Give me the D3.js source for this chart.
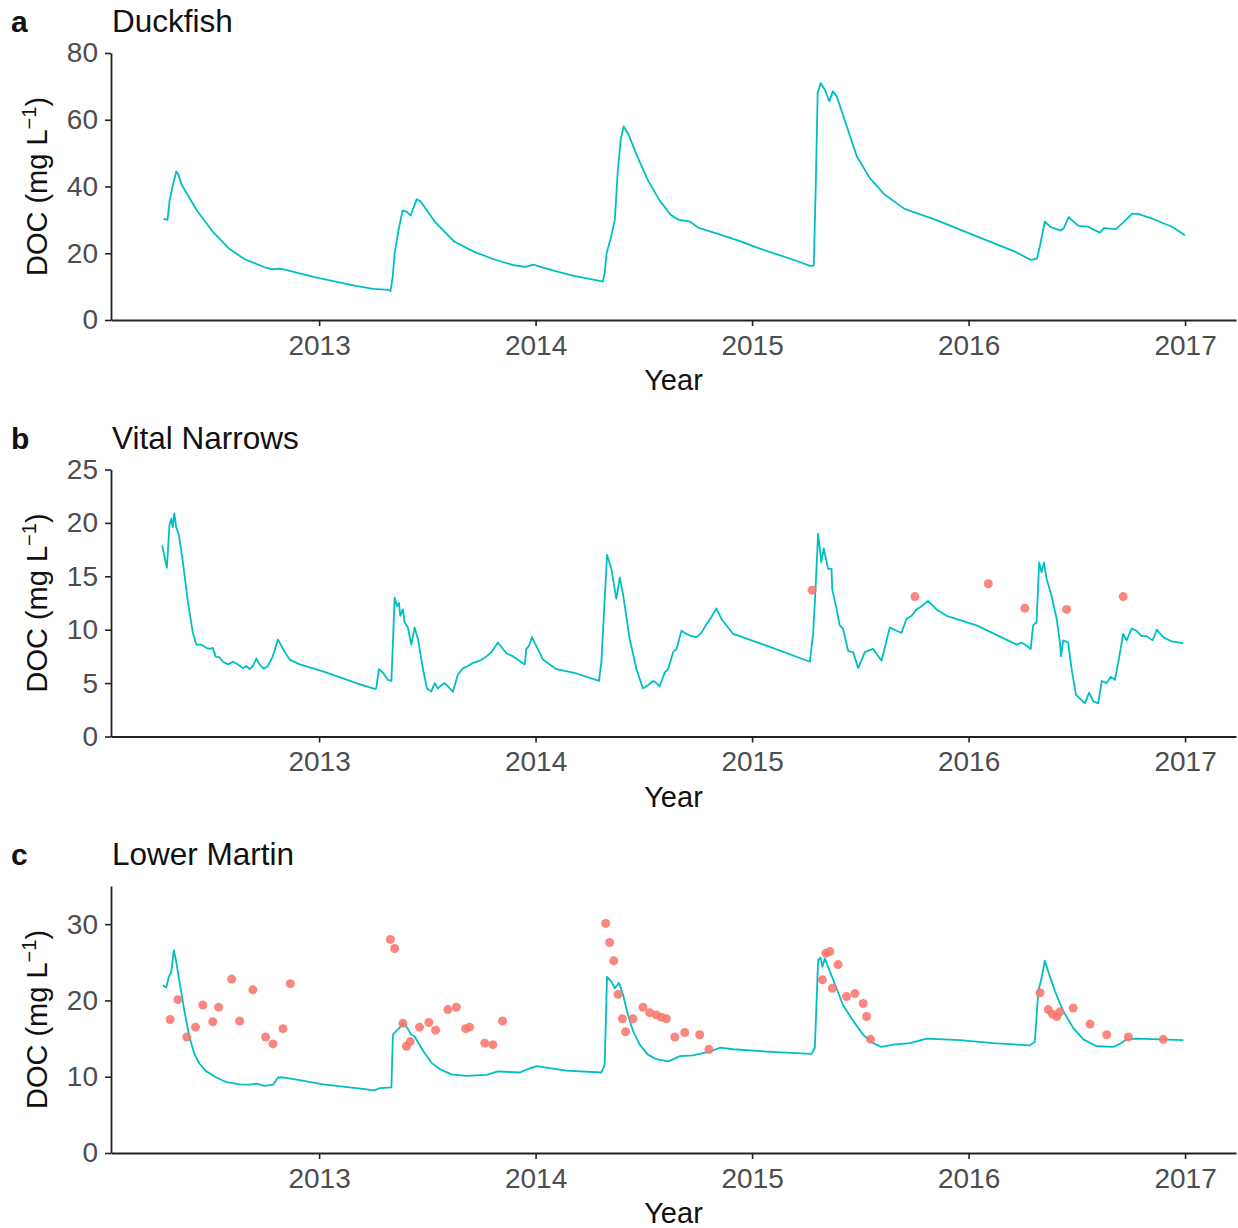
<!DOCTYPE html>
<html>
<head>
<meta charset="utf-8">
<script src="https://cdn.jsdelivr.net/npm/d3@7"></script>
<style>
  html, body { margin: 0; padding: 0; background: #fff; }
  svg { display: block; font-family: "Liberation Sans", Arial, Helvetica, sans-serif; }
</style>
</head>
<body>
<svg id="chart" width="1238" height="1228"></svg>
<script>
// ---- data: [decimal year, DOC mg/L] ----
const yearTicks = [2013, 2014, 2015, 2016, 2017];

const duckfishModel = [
  [2012.281,30.3],[2012.300,30.0],[2012.310,36.0],[2012.323,40.0],[2012.340,44.5],[2012.351,43.5],
  [2012.365,40.5],[2012.402,36.5],[2012.439,32.5],[2012.508,26.5],[2012.582,21.5],[2012.656,18.2],
  [2012.748,15.8],[2012.785,15.2],[2012.822,15.4],[2012.984,12.8],[2013.169,10.2],[2013.250,9.3],
  [2013.321,9.0],[2013.330,8.7],[2013.340,13.0],[2013.349,20.0],[2013.367,27.0],[2013.386,32.8],
  [2013.404,32.5],[2013.423,31.3],[2013.451,36.2],[2013.469,35.5],[2013.534,29.5],[2013.624,23.5],
  [2013.714,20.5],[2013.806,18.2],[2013.899,16.4],[2013.954,15.9],[2013.989,16.6],[2014.079,14.9],
  [2014.171,13.3],[2014.273,12.0],[2014.310,11.5],[2014.319,14.0],[2014.328,20.0],[2014.347,24.5],
  [2014.366,30.0],[2014.379,44.0],[2014.393,54.0],[2014.407,58.0],[2014.430,55.5],[2014.463,50.0],
  [2014.518,42.0],[2014.571,36.0],[2014.624,31.5],[2014.661,30.0],[2014.712,29.5],[2014.753,27.6],
  [2014.846,25.7],[2014.937,23.8],[2015.026,21.6],[2015.119,19.6],[2015.211,17.6],[2015.267,16.2],
  [2015.285,16.3],[2015.294,40.0],[2015.303,68.0],[2015.317,71.0],[2015.336,69.0],[2015.357,65.5],
  [2015.373,68.5],[2015.391,67.0],[2015.484,49.0],[2015.544,42.5],[2015.613,37.5],[2015.636,36.5],
  [2015.704,33.3],[2015.849,30.0],[2016.032,25.2],[2016.214,20.5],[2016.288,18.0],[2016.316,18.4],
  [2016.329,22.0],[2016.352,29.5],[2016.380,27.8],[2016.426,26.8],[2016.440,27.5],[2016.462,30.8],
  [2016.507,28.2],[2016.551,28.0],[2016.579,27.0],[2016.607,26.2],[2016.625,27.5],[2016.681,27.2],
  [2016.718,29.5],[2016.755,31.8],[2016.783,31.8],[2016.855,30.2],[2016.944,27.8],[2016.999,25.4]
];
const duckfishObserved = [];

const vitalModel = [
  [2012.275,17.9],[2012.297,15.8],[2012.309,19.8],[2012.317,20.4],[2012.324,19.6],[2012.331,20.9],
  [2012.340,19.6],[2012.352,18.9],[2012.371,16.3],[2012.394,12.6],[2012.417,9.7],[2012.433,8.6],
  [2012.456,8.6],[2012.479,8.3],[2012.494,8.2],[2012.509,8.3],[2012.522,7.5],[2012.540,7.4],
  [2012.556,7.0],[2012.579,6.75],[2012.602,7.0],[2012.625,6.75],[2012.648,6.4],[2012.664,6.6],
  [2012.679,6.3],[2012.694,6.6],[2012.710,7.3],[2012.725,6.75],[2012.744,6.35],[2012.764,6.6],
  [2012.784,7.4],[2012.794,8.0],[2012.810,9.1],[2012.833,8.2],[2012.864,7.2],[2012.910,6.75],
  [2013.018,6.1],[2013.172,5.0],[2013.256,4.45],[2013.264,4.5],[2013.276,6.3],[2013.295,6.0],
  [2013.318,5.3],[2013.334,5.2],[2013.349,13.0],[2013.360,12.2],[2013.369,12.5],[2013.375,11.3],
  [2013.387,11.9],[2013.395,10.7],[2013.410,10.2],[2013.426,8.6],[2013.441,10.2],[2013.457,9.1],
  [2013.480,6.3],[2013.498,4.5],[2013.518,4.2],[2013.534,5.0],[2013.549,4.5],[2013.565,4.8],
  [2013.580,5.0],[2013.595,4.7],[2013.618,4.2],[2013.641,5.8],[2013.665,6.4],[2013.688,6.6],
  [2013.711,6.9],[2013.742,7.1],[2013.773,7.5],[2013.796,7.9],[2013.826,8.8],[2013.865,7.8],
  [2013.896,7.5],[2013.950,6.75],[2013.957,8.2],[2013.970,8.5],[2013.983,9.3],[2014.034,7.2],
  [2014.096,6.3],[2014.189,5.9],[2014.293,5.2],[2014.304,7.0],[2014.330,17.0],[2014.350,15.7],
  [2014.373,12.9],[2014.389,14.9],[2014.404,13.3],[2014.435,9.1],[2014.466,6.3],[2014.496,4.5],
  [2014.519,4.8],[2014.543,5.2],[2014.558,5.0],[2014.573,4.7],[2014.597,6.0],[2014.612,6.3],
  [2014.635,7.9],[2014.651,8.2],[2014.674,9.9],[2014.697,9.6],[2014.720,9.4],[2014.743,9.3],
  [2014.766,9.7],[2014.789,10.5],[2014.812,11.2],[2014.835,12.0],[2014.859,11.0],[2014.912,9.6],
  [2015.067,8.5],[2015.267,7.0],[2015.282,9.7],[2015.290,12.6],[2015.305,19.0],[2015.320,16.3],
  [2015.331,17.6],[2015.351,15.7],[2015.367,15.7],[2015.370,13.8],[2015.390,12.0],[2015.405,10.4],
  [2015.420,10.1],[2015.444,8.0],[2015.467,7.9],[2015.490,6.4],[2015.521,7.9],[2015.559,8.2],
  [2015.598,7.1],[2015.636,10.2],[2015.667,9.9],[2015.690,9.7],[2015.713,11.0],[2015.737,11.3],
  [2015.760,11.9],[2015.783,12.2],[2015.813,12.7],[2015.852,11.9],[2015.898,11.3],[2016.037,10.4],
  [2016.222,8.6],[2016.245,8.8],[2016.268,8.5],[2016.287,8.2],[2016.298,10.4],[2016.314,10.7],
  [2016.326,16.3],[2016.337,15.4],[2016.348,16.3],[2016.360,14.8],[2016.383,13.2],[2016.407,11.0],
  [2016.422,8.8],[2016.427,7.5],[2016.437,9.0],[2016.460,8.8],[2016.476,6.3],[2016.496,3.9],
  [2016.522,3.4],[2016.537,3.1],[2016.557,4.1],[2016.576,3.3],[2016.599,3.1],[2016.615,5.2],
  [2016.638,5.0],[2016.656,5.6],[2016.676,5.3],[2016.691,6.9],[2016.714,9.6],[2016.730,9.0],
  [2016.753,10.1],[2016.776,9.9],[2016.799,9.4],[2016.823,9.4],[2016.850,9.0],[2016.869,10.0],
  [2016.899,9.3],[2016.938,8.9],[2016.992,8.75]
];
const vitalObserved = [
  [2015.277,13.7],[2015.752,13.1],[2016.091,14.3],[2016.260,12.0],[2016.453,11.9],[2016.714,13.1]
];

const martinModel = [
  [2012.278,22.0],[2012.294,21.7],[2012.306,23.1],[2012.317,23.7],[2012.329,26.6],[2012.340,25.1],
  [2012.355,22.5],[2012.378,18.6],[2012.402,15.1],[2012.425,12.9],[2012.448,11.7],[2012.479,10.7],
  [2012.525,9.9],[2012.571,9.3],[2012.633,9.0],[2012.679,8.95],[2012.710,9.1],[2012.748,8.8],
  [2012.787,8.95],[2012.794,9.2],[2012.810,9.9],[2012.833,9.9],[2012.910,9.55],[2013.018,9.0],
  [2013.172,8.5],[2013.256,8.2],[2013.280,8.5],[2013.334,8.6],[2013.341,15.5],[2013.357,16.0],
  [2013.372,16.4],[2013.387,17.1],[2013.403,16.6],[2013.426,15.5],[2013.441,15.3],[2013.480,13.4],
  [2013.518,11.85],[2013.557,11.0],[2013.611,10.3],[2013.680,10.1],[2013.773,10.25],[2013.826,10.7],
  [2013.927,10.55],[2013.973,11.1],[2014.004,11.4],[2014.142,10.8],[2014.304,10.55],[2014.319,11.6],
  [2014.330,23.1],[2014.350,22.5],[2014.366,21.6],[2014.385,22.3],[2014.404,20.75],[2014.427,18.1],
  [2014.450,16.0],[2014.481,14.2],[2014.519,12.9],[2014.558,12.3],[2014.612,12.0],[2014.666,12.7],
  [2014.727,12.8],[2014.804,13.3],[2014.851,13.8],[2014.912,13.6],[2015.067,13.3],[2015.275,13.0],
  [2015.290,13.8],[2015.305,25.3],[2015.316,25.6],[2015.325,24.4],[2015.336,25.5],[2015.359,23.8],
  [2015.390,21.6],[2015.420,19.4],[2015.467,17.3],[2015.513,15.5],[2015.559,14.4],[2015.598,13.9],
  [2015.652,14.2],[2015.729,14.4],[2015.806,15.0],[2015.960,14.8],[2016.114,14.4],[2016.283,14.1],
  [2016.306,14.6],[2016.322,21.2],[2016.337,22.9],[2016.352,25.2],[2016.368,23.8],[2016.399,21.2],
  [2016.437,18.6],[2016.483,16.4],[2016.530,14.9],[2016.591,14.0],[2016.668,13.9],[2016.699,14.3],
  [2016.730,14.9],[2016.776,15.0],[2016.884,14.9],[2016.992,14.8]
];
const martinObserved = [
  [2012.312,17.5],[2012.348,20.1],[2012.389,15.2],[2012.429,16.5],[2012.463,19.4],[2012.509,17.2],
  [2012.536,19.1],[2012.596,22.8],[2012.633,17.3],[2012.694,21.4],[2012.753,15.2],[2012.787,14.3],
  [2012.833,16.3],[2012.867,22.2],[2013.329,28.0],[2013.349,26.8],[2013.387,17.0],[2013.403,14.0],
  [2013.421,14.6],[2013.464,16.5],[2013.507,17.1],[2013.538,16.1],[2013.595,18.8],[2013.634,19.1],
  [2013.677,16.3],[2013.695,16.5],[2013.765,14.4],[2013.803,14.2],[2013.847,17.3],[2014.324,30.1],
  [2014.342,27.6],[2014.361,25.2],[2014.381,20.8],[2014.401,17.6],[2014.416,15.9],[2014.450,17.6],
  [2014.496,19.1],[2014.527,18.4],[2014.558,18.1],[2014.581,17.8],[2014.604,17.6],[2014.643,15.2],
  [2014.689,15.8],[2014.758,15.5],[2014.801,13.6],[2015.325,22.7],[2015.341,26.2],[2015.359,26.4],
  [2015.371,21.6],[2015.397,24.7],[2015.436,20.5],[2015.475,20.9],[2015.513,19.6],[2015.529,17.9],
  [2015.547,14.9],[2016.330,21.0],[2016.368,18.8],[2016.388,18.2],[2016.407,17.9],[2016.422,18.5],
  [2016.483,19.0],[2016.561,16.9],[2016.638,15.5],[2016.738,15.2],[2016.899,14.9]
];

const panelLetters = ["a", "b", "c"];
const siteNames = ["Duckfish", "Vital Narrows", "Lower Martin"];
const yMaxima = [80, 25, 35];
const yTickSets = [[0, 20, 40, 60, 80], [0, 5, 10, 15, 20, 25], [0, 10, 20, 30]];

// ---- layout ----
const svg = d3.select("#chart");
const plotLeft = 111, plotRight = 1236;
const plotHeight = 267;
const panelBottoms = [320, 736.5, 1153];
const modelColor = "#00BFC4", obsColor = "#F8766D";
const axisColor = "#222", tickTextColor = "#4d4d4d";

// shared x domain with 5% padding around the data range
const allYears = [duckfishModel, vitalModel, martinModel, vitalObserved, martinObserved]
  .flat().map(d => d[0]);
const [xMin, xMax] = d3.extent(allYears);
const pad = (xMax - xMin) * 0.05;
const x = d3.scaleLinear().domain([xMin - pad, xMax + pad]).range([plotLeft, plotRight]);

const panels = [
  { model: duckfishModel, observed: duckfishObserved },
  { model: vitalModel, observed: vitalObserved },
  { model: martinModel, observed: martinObserved }
];

panels.forEach((p, i) => {
  const top = panelBottoms[i] - plotHeight;
  const g = svg.append("g").attr("transform", `translate(0,${top})`);
  const y = d3.scaleLinear().domain([0, yMaxima[i]]).range([plotHeight, 0]);

  // model line
  const line = d3.line().x(d => x(d[0])).y(d => y(d[1]));
  g.append("path")
    .datum(p.model)
    .attr("d", line)
    .attr("fill", "none")
    .attr("stroke", modelColor)
    .attr("stroke-width", 1.8)
    .attr("stroke-linejoin", "round");

  // observed samples
  g.selectAll("circle.obs")
    .data(p.observed)
    .enter().append("circle")
    .attr("class", "obs")
    .attr("cx", d => x(d[0]))
    .attr("cy", d => y(d[1]))
    .attr("r", 4.5)
    .attr("fill", obsColor)
    .attr("fill-opacity", 0.88);

  // axes
  const yAxis = g.append("g")
    .attr("transform", `translate(${plotLeft},0)`)
    .call(d3.axisLeft(y).tickValues(yTickSets[i]).tickSize(6).tickSizeOuter(0).tickPadding(7));
  const xAxis = g.append("g")
    .attr("transform", `translate(0,${plotHeight})`)
    .call(d3.axisBottom(x).tickValues(yearTicks).tickFormat(d3.format("d"))
      .tickSize(6).tickSizeOuter(0).tickPadding(9));
  [yAxis, xAxis].forEach(ax => {
    ax.select(".domain").attr("stroke", axisColor).attr("stroke-width", 1.8);
    ax.selectAll(".tick line").attr("stroke", axisColor).attr("stroke-width", 1.6);
    ax.selectAll(".tick text")
      .attr("fill", tickTextColor)
      .style("font-size", "28px")
      .style("font-family", '"Liberation Sans", Arial, sans-serif');
  });

  // panel letter and site name
  g.append("text")
    .attr("x", 11).attr("y", -21)
    .style("font-size", "30px").style("font-weight", "bold")
    .attr("fill", "#111")
    .text(panelLetters[i]);
  g.append("text")
    .attr("x", 112).attr("y", -21)
    .style("font-size", "31.5px")
    .attr("fill", "#111")
    .text(siteNames[i]);

  // x axis title
  g.append("text")
    .attr("x", (plotLeft + plotRight) / 2).attr("y", plotHeight + 70)
    .attr("text-anchor", "middle")
    .style("font-size", "29px")
    .attr("fill", "#111")
    .text("Year");

  // y axis title with superscript
  const yt = g.append("text")
    .attr("transform", `translate(47,${plotHeight / 2}) rotate(-90)`)
    .attr("text-anchor", "middle")
    .style("font-size", "29px")
    .attr("fill", "#111");
  yt.append("tspan").text("DOC (mg L");
  yt.append("tspan").attr("dy", -11).style("font-size", "20px").text("\u22121");
  yt.append("tspan").attr("dy", 11).text(")");
});
</script>
</body>
</html>
